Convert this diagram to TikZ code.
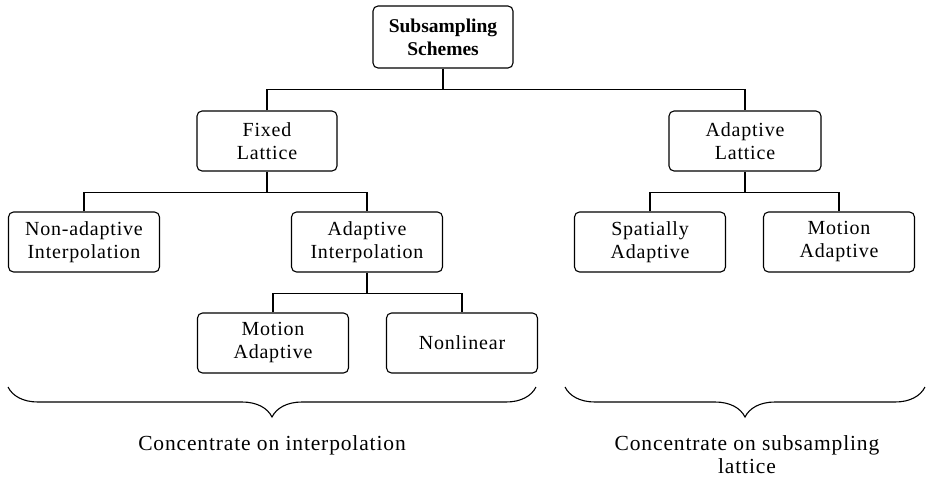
\documentclass[tikz,border=0pt]{standalone}
\usepackage{fontspec}
\setmainfont{Liberation Serif}
\newfontfamily\boxfont[LetterSpace=4]{Liberation Serif}
\usetikzlibrary{positioning, decorations.pathreplacing, calc}

\tikzset{
  schemebox/.style={draw, line width=1.1pt, rounded corners=5pt,
    minimum width=151pt, minimum height=60pt, inner sep=0pt,
    align=center, font=\fontsize{20}{23}\selectfont\boxfont},
  link/.style={line width=1.1pt},
  bracket/.style={decorate, decoration={brace, mirror, amplitude=30pt},
    line width=1.1pt},
  focus/.style={anchor=north, inner sep=0pt, align=center,
    font=\fontsize{21.5}{23.5}\selectfont\boxfont}
}

\begin{document}
\begin{tikzpicture}[x=1pt, y=-1pt]
    \useasboundingbox (0,0) rectangle (927,480);

    % tree of schemes
    \node[schemebox, minimum width=140pt, minimum height=62pt,
          font=\fontsize{19.5}{23}\selectfont\bfseries] (root) at (443,37)
      {Subsampling\\Schemes};
    \node[schemebox, minimum width=140pt] (fixed) at (267,141) {Fixed\\Lattice};
    \node[schemebox, minimum width=152pt] (alat) at (745,141) {Adaptive\\Lattice};
    \node[schemebox] (nonad) at (84,242) {Non-adaptive\\Interpolation};
    \node[schemebox] (adint) at (367,242) {Adaptive\\Interpolation};
    \node[schemebox] (spat) at (650,242) {Spatially\\Adaptive};
    \node[schemebox] (madr) at (839,242) {Motion\\Adaptive};
    \node[schemebox] (madl) at (273,343) {Motion\\Adaptive};
    \node[schemebox] (nonlin) at (462,343) {Nonlinear};

    % connectors
    \draw[link] (root.south) -- ++(0,21) coordinate (busA);
    \draw[link] (fixed.north) |- (busA) -| (alat.north);
    \draw[link] (fixed.south) -- ++(0,21) coordinate (busB);
    \draw[link] (nonad.north) |- (busB) -| (adint.north);
    \draw[link] (alat.south) -- ++(0,21) coordinate (busC);
    \draw[link] (spat.north) |- (busC) -| (madr.north);
    \draw[link] (adint.south) -- ++(0,21) coordinate (busD);
    \draw[link] (madl.north) |- (busD) -| (nonlin.north);

    % braces
    \coordinate (lbrA) at (8,387);
    \coordinate (lbrB) at (536,387);
    \coordinate (rbrA) at (565,387);
    \coordinate (rbrB) at (925,387);
    \draw[bracket] (lbrA) -- (lbrB);
    \draw[bracket] (rbrA) -- (rbrB);
    \node[focus] (focusint) at (272,435) {Concentrate on interpolation};
    \node[focus] (focuslat) at (747,435) {Concentrate on subsampling\\lattice};
\end{tikzpicture}
\end{document}
